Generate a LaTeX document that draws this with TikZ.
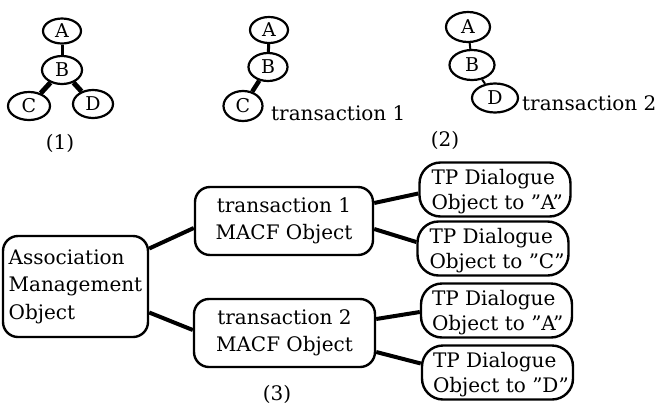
\documentclass[tikz,border=0pt]{standalone}
\usepackage{fontspec}
\setmainfont{DejaVu Serif}
\usetikzlibrary{shapes.geometric,calc}
\newcommand\txtfont{\fontsize{20}{27.5}\selectfont}
\newcommand\ltrfont{\fontsize{19}{22}\selectfont}
\begin{document}
\begin{tikzpicture}[x=1pt,y=-1pt,
  ell/.style={ellipse,draw,line width=2.2pt,inner sep=0pt,font=\ltrfont},
  objbox/.style={draw,line width=2.4pt,rounded corners=15pt,inner sep=0pt,font=\txtfont},
  tpbox/.style={draw,line width=2.4pt,rounded corners=21pt,minimum width=151pt,minimum height=54pt,inner sep=0pt},
  tpline/.style={anchor=base west,inner sep=0pt,font=\txtfont},
  link/.style={line width=4pt},
  caption/.style={font=\txtfont,inner sep=0pt}
]
\useasboundingbox (0,0) rectangle (656,405);

% (1) the full tree
\node[ell,minimum width=38pt,minimum height=25pt] (a1) at (62,31) {A};
\node[ell,minimum width=40pt,minimum height=28pt] (b1) at (62,70) {B};
\node[ell,minimum width=42pt,minimum height=28pt] (c1) at (29,106) {C};
\node[ell,minimum width=40pt,minimum height=28pt] (d1) at (93,104) {D};
\draw[line width=3pt] (a1) -- (b1);
\draw[line width=5pt] (b1) -- (c1);
\draw[line width=5pt] (b1) -- (d1);
\node[caption] (cap1) at (60,143) {(1)};

% (2) the two transaction branches
\node[ell,minimum width=38pt,minimum height=26pt] (a2) at (269,30) {A};
\node[ell,minimum width=39pt,minimum height=28pt] (b2) at (268,67) {B};
\node[ell,minimum width=39pt,minimum height=30pt] (c2) at (243,106) {C};
\draw[line width=3pt] (a2) -- (b2);
\draw[line width=4.5pt] (b2) -- (c2);
\node[tpline] (tr1) at (271,120) {transaction 1};

\node[ell,minimum width=44pt,minimum height=30pt] (a3) at (468,27) {A};
\node[ell,minimum width=45pt,minimum height=30pt] (b3) at (472,65) {B};
\node[ell,minimum width=46pt,minimum height=29pt] (d3) at (495,98) {D};
\draw[line width=2pt] (a3) -- (b3);
\draw[line width=2pt] (b3) -- (d3);
\node[tpline] (tr2) at (522,110) {transaction 2};
\node[caption] (cap2) at (445,140) {(2)};

% (3) the object structure
\node[objbox,minimum width=145pt,minimum height=101pt,align=left] (amo) at (75.5,286.5) {Association\\Management\\Object};
\node[objbox,minimum width=178pt,minimum height=68pt,align=center] (m1) at (284,221) {transaction 1\\MACF Object};
\node[objbox,minimum width=181pt,minimum height=68pt,align=center] (m2) at (284.5,333) {transaction 2\\MACF Object};

\node[tpbox] (t1) at (495,189.5) {};
\node[tpbox] (t2) at (493,248.5) {};
\node[tpbox] (t3) at (496.5,310.5) {};
\node[tpbox] (t4) at (497.5,372.5) {};

\node[tpline] (t1a) at ($(t1.north west)+(13,23)$) {TP Dialogue};
\node[tpline] (t1b) at ($(t1.north west)+(13,48.5)$) {Object to ”A”};
\node[tpline] (t2a) at ($(t2.north west)+(13,23)$) {TP Dialogue};
\node[tpline] (t2b) at ($(t2.north west)+(13,48.5)$) {Object to ”C”};
\node[tpline] (t3a) at ($(t3.north west)+(12,23)$) {TP Dialogue};
\node[tpline] (t3b) at ($(t3.north west)+(12,48.5)$) {Object to ”A”};
\node[tpline] (t4a) at ($(t4.north west)+(12,23)$) {TP Dialogue};
\node[tpline] (t4b) at ($(t4.north west)+(12,48.5)$) {Object to ”D”};

\draw[link] ($(amo.east)+(0,-38)$) -- ($(m1.west)+(0,7)$);
\draw[link] ($(amo.east)+(0,26)$) -- ($(m2.west)+(0,-3)$);
\draw[link] ($(m1.east)+(0,-18)$) -- ($(t1.west)+(0,4)$);
\draw[link] ($(m1.east)+(0,8)$) -- ($(t2.west)+(0,-6.5)$);
\draw[link] ($(m2.east)+(0,-14)$) -- ($(t3.west)+(0,1.5)$);
\draw[link] ($(m2.east)+(0,19)$) -- ($(t4.west)+(0,-9)$);

\node[caption,anchor=base] (cap3) at (277,400) {(3)};
\end{tikzpicture}
\end{document}
